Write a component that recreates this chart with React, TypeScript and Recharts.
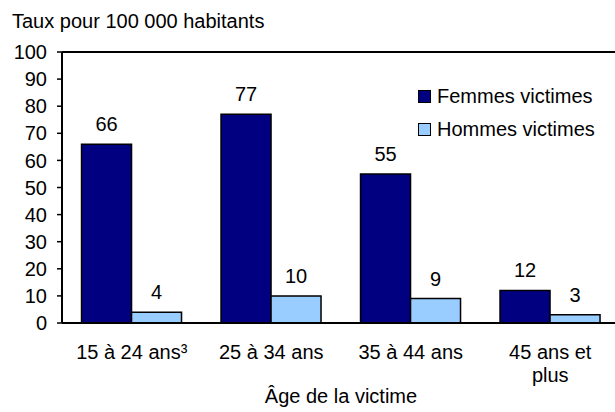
import React from 'react';
import { BarChart, Bar, XAxis, YAxis, LabelList, ReferenceLine } from 'recharts';

const categories = ['15 à 24 ans³', '25 à 34 ans', '35 à 44 ans', '45 ans et\nplus'];
const femmes = [66, 77, 55, 12];
const hommes = [4, 10, 9, 3];
const yTicks = [0, 10, 20, 30, 40, 50, 60, 70, 80, 90, 100];
const legendItems = [
  { name: 'Femmes victimes', color: '#000080' },
  { name: 'Hommes victimes', color: '#99CCFF' },
];

const data = categories.map((c, i) => ({ cat: c, femmes: femmes[i], hommes: hommes[i] }));

const FONT = 'Liberation Sans, Arial, sans-serif';
const FS = 20;

const XTick = (props: any) => {
  const { x, y, payload } = props;
  const lines = String(payload.value).split('\n');
  return (
    <text x={x} y={y} textAnchor="middle" fontSize={FS} fontFamily={FONT} fill="#000">
      {lines.map((l, i) => (
        <tspan key={i} x={x} dy={i === 0 ? 28 : 23}>{l}</tspan>
      ))}
    </text>
  );
};

export default function App() {
  return (
    <div style={{ position: 'absolute', left: 0, top: 0, width: 615, height: 412, overflow: 'hidden', background: '#fff' }}>
      <div style={{ position: 'absolute', left: 12, top: 10, fontFamily: FONT, fontSize: FS, color: '#000', whiteSpace: 'nowrap' }}>
        Taux pour 100 000 habitants
      </div>
      <BarChart width={625} height={412} data={data} margin={{ top: 52, right: 5, bottom: 0, left: 0 }}
        barCategoryGap="14%" barGap={0}>
        <YAxis domain={[0, 100]} ticks={yTicks} interval={0} width={62} axisLine={{ stroke: '#000', strokeWidth: 2 }}
          tickLine={{ stroke: '#000', strokeWidth: 1.5 }} tickSize={5} tickMargin={10}
          tick={{ fill: '#000', fontSize: FS, fontFamily: FONT }} />
        <XAxis dataKey="cat" height={89} tickLine={false} axisLine={{ stroke: '#000', strokeWidth: 2 }}
          tick={<XTick />} interval={0}
          label={{ value: 'Âge de la victime', position: 'insideBottom', offset: 9, fill: '#000', fontSize: FS, fontFamily: FONT }} />
        <ReferenceLine y={100} stroke="#000" strokeWidth={2} ifOverflow="extendDomain" />
        <Bar dataKey="femmes" name="Femmes victimes" fill="#000080" stroke="#000" strokeWidth={1.5} isAnimationActive={false}>
          <LabelList dataKey="femmes" position="top" offset={13} fill="#000" fontSize={FS} fontFamily={FONT} />
        </Bar>
        <Bar dataKey="hommes" name="Hommes victimes" fill="#99CCFF" stroke="#000" strokeWidth={1.5} isAnimationActive={false}>
          <LabelList dataKey="hommes" position="top" offset={13} fill="#000" fontSize={FS} fontFamily={FONT} />
        </Bar>
      </BarChart>
      <div style={{ position: 'absolute', left: 418, top: 80, fontFamily: FONT, fontSize: FS, color: '#000' }}>
        {legendItems.map((it, i) => (
          <div key={i} style={{ display: 'flex', alignItems: 'center', height: 33, whiteSpace: 'nowrap' }}>
            <span style={{ display: 'inline-block', width: 11, height: 11, background: it.color, border: '1px solid #000', marginRight: 6 }} />
            <span>{it.name}</span>
          </div>
        ))}
      </div>
    </div>
  );
}
